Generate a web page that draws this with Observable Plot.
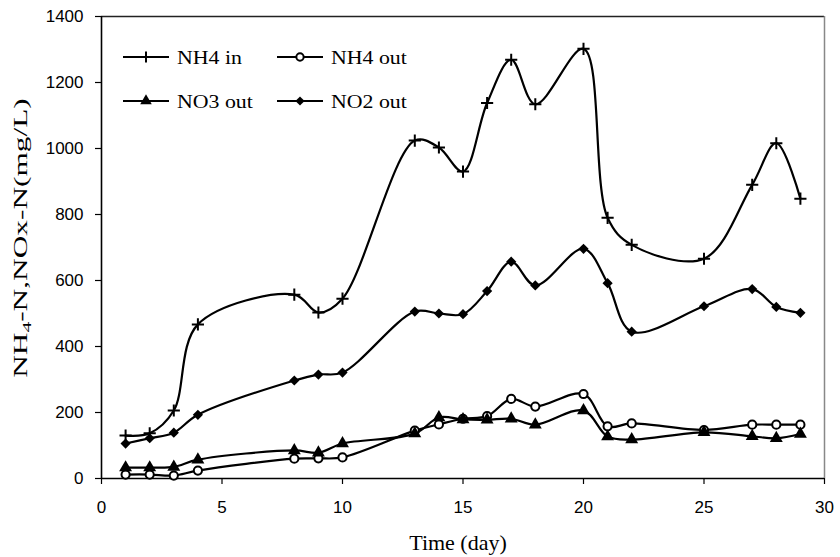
<!DOCTYPE html>
<html><head><meta charset="utf-8">
<script src="https://cdn.jsdelivr.net/npm/d3@7"></script>
<script src="https://cdn.jsdelivr.net/npm/@observablehq/plot@0.6"></script>
<style>
body{margin:0;background:#fff}
#chart{position:relative;width:840px;height:557px}
</style>
</head><body><div id="chart"></div>
<script>
// ---- data ----
const days   = [1,2,3,4,8,9,10,13,14,15,16,17,18,20,21,22,25,27,28,29];
const nh4In  = [130,137,206,467,557,503,545,1024,1003,930,1138,1269,1134,1302,790,708,666,890,1016,848];
const nh4Out = [12,12,9,24,60,61,64,145,164,181,189,241,218,256,158,167,147,163,163,163];
const no3Out = [33,33,35,57,85,78,106,136,185,179,178,181,163,206,127,118,140,128,122,135];
const no2Out = [106,122,139,193,297,315,321,506,500,498,568,657,585,696,592,445,522,574,520,502];
const seriesNames = ["NH4 in","NH4 out","NO3 out","NO2 out"];
const xTicks = [0,5,10,15,20,25,30];
const yTicks = [0,200,400,600,800,1000,1200,1400];
const xTitle = "Time (day)";

// ---- styles ----
const seriesValues = [nh4In, nh4Out, no3Out, no2Out];
const symbolOf = {"NH4 in":"plus","NH4 out":"circle","NO3 out":"triangle","NO2 out":"diamond2"};
const fillOf   = {"NH4 in":"none","NH4 out":"white","NO3 out":"black","NO2 out":"black"};
const rOf      = {"NH4 in":4.0,"NH4 out":4.1,"NO3 out":4.8,"NO2 out":4.6};
const swOf     = {"NH4 in":2,"NH4 out":2,"NO3 out":0,"NO2 out":0};
const d3Sym = {plus:d3.symbolPlus, circle:d3.symbolCircle, triangle:d3.symbolTriangle, diamond2:d3.symbolDiamond2};

const rows = [];
seriesNames.forEach((s,i)=>days.forEach((d,j)=>rows.push({series:s, day:d, value:seriesValues[i][j]})));

const serif = "'Liberation Serif','Times New Roman',serif";
const sans = "'Liberation Sans',Arial,sans-serif";

const marks = [
  Plot.ruleY([1400], {stroke:"#222", strokeWidth:1.3}),
  Plot.ruleX([30], {stroke:"#888", strokeWidth:1.5}),
  Plot.axisX({ticks:xTicks, tickSize:6, tickPadding:16, fontSize:17, fontFamily:sans, label:null, stroke:"black", strokeWidth:1.2, fill:"black", tickFormat:d3.format("d")}),
  Plot.axisY({ticks:yTicks, tickSize:6, tickPadding:12, fontSize:17, fontFamily:sans, label:null, stroke:"black", strokeWidth:1.2, fill:"black", tickFormat:d3.format("d")}),
  Plot.ruleY([0], {stroke:"black", strokeWidth:1.6}),
  Plot.ruleX([0], {stroke:"black", strokeWidth:1.6}),
  Plot.line(rows, {x:"day", y:"value", z:"series", stroke:"black", strokeWidth:2.2, curve:"catmull-rom"})
];
seriesNames.forEach(s=>{
  marks.push(Plot.dot(rows.filter(d=>d.series===s), {
    x:"day", y:"value", symbol:()=>symbolOf[s], r:rOf[s],
    fill:fillOf[s], stroke:"black", strokeWidth:swOf[s]
  }));
});

const chart = Plot.plot({
  width:840, height:557,
  marginLeft:101, marginRight:16, marginTop:16, marginBottom:79,
  x:{domain:[0,30]},
  y:{domain:[0,1400]},
  symbol:{type:"identity"},
  style:{background:"white", color:"black"},
  marks
});
document.getElementById("chart").appendChild(chart);

// ---- titles and legend ----
const svg = d3.select(chart);
svg.append("text")
  .attr("x", 458).attr("y", 550)
  .attr("text-anchor","middle")
  .attr("font-family", serif).attr("font-size", 20)
  .attr("transform","translate(458,0) scale(1.1,1) translate(-458,0)")
  .text(xTitle);

const yl = svg.append("text")
  .attr("transform","translate(27,238) rotate(-90) scale(1.65,1)")
  .attr("text-anchor","middle")
  .attr("font-family", serif).attr("font-size", 19);
yl.append("tspan").text("NH");
yl.append("tspan").attr("font-size",13).attr("dy",4).text("4");
yl.append("tspan").attr("dy",-4).text("-N,NOx-N(mg/L)");

const legX = [123, 277], legY = [57, 101];
seriesNames.forEach((s,i)=>{
  const gx = legX[i%2], gy = legY[Math.floor(i/2)];
  const g = svg.append("g");
  g.append("line").attr("x1",gx).attr("x2",gx+46).attr("y1",gy).attr("y2",gy)
    .attr("stroke","black").attr("stroke-width",2.2);
  g.append("path")
    .attr("d", d3.symbol(d3Sym[symbolOf[s]], Math.PI*rOf[s]*rOf[s]*0.8)())
    .attr("transform",`translate(${gx+23},${gy})`)
    .attr("fill", fillOf[s]).attr("stroke","black").attr("stroke-width", swOf[s]);
  g.append("text").attr("x", gx+54).attr("y", gy+7)
    .attr("text-anchor","start")
    .attr("font-family", serif).attr("font-size", 19)
    .attr("transform",`translate(${gx+54},0) scale(1.15,1) translate(${-(gx+54)},0)`)
    .text(s);
});
</script>
</body></html>
